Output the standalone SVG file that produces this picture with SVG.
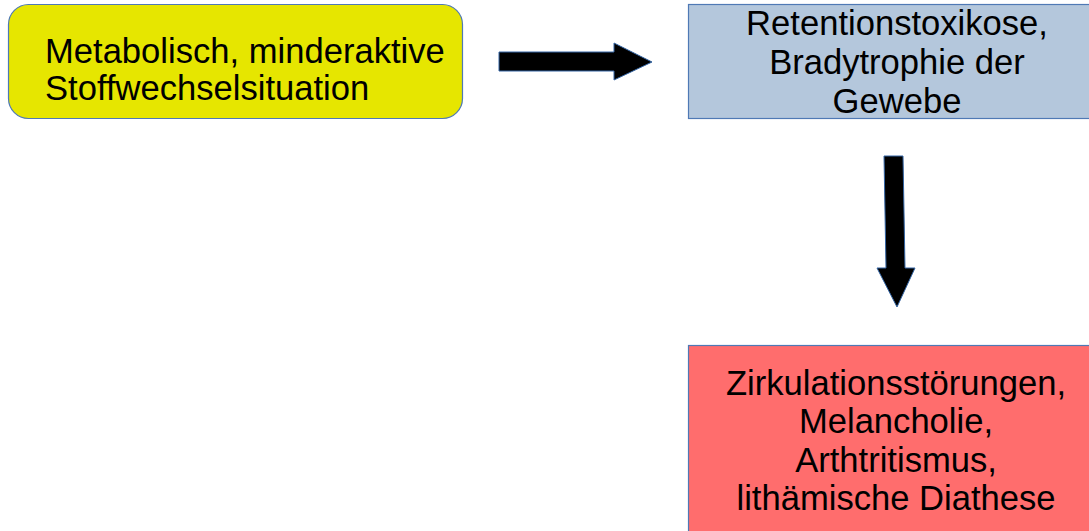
<svg xmlns="http://www.w3.org/2000/svg" width="1089" height="531" viewBox="0 0 1089 531">
<style>
.box{stroke:#4f79b5;stroke-width:1.2}
.t{font-family:"Liberation Sans",Arial,sans-serif;font-size:34.6px;fill:#000}
.c{text-anchor:middle}
.arr{fill:#000;stroke:#3465a4;stroke-width:1}
</style>
<rect width="1089" height="531" fill="#fff"/>
<g id="connectors">
<path class="arr" d="M499,52 L614,52 L614,43 L652,62 L614,80 L614,71 L499,71 Z"/>
<path class="arr" d="M884,156 L903,156 L905,268 L915,268 L897,307 L877,268 L886,268 Z"/>
</g>
<g id="node-metabolisch">
<rect class="box" x="8.5" y="4.5" width="454" height="114" rx="20" fill="#e6e600"/>
<text class="t" x="45" y="63">Metabolisch, minderaktive</text>
<text class="t" x="45" y="100">Stoffwechselsituation</text>
</g>
<g id="node-retention">
<rect class="box" x="688.5" y="4.5" width="420" height="114" fill="#b4c7dc"/>
<text class="t c" x="897" y="35">Retentionstoxikose,</text>
<text class="t c" x="897" y="74">Bradytrophie der</text>
<text class="t c" x="897" y="113">Gewebe</text>
</g>
<g id="node-zirkulation">
<rect class="box" x="688.5" y="345.5" width="420" height="200" fill="#ff6d6d"/>
<text class="t c" x="896" y="395">Zirkulationsstörungen,</text>
<text class="t c" x="896" y="433">Melancholie,</text>
<text class="t c" x="896" y="472">Arthtritismus,</text>
<text class="t c" x="896" y="510">lithämische Diathese</text>
</g>
</svg>
